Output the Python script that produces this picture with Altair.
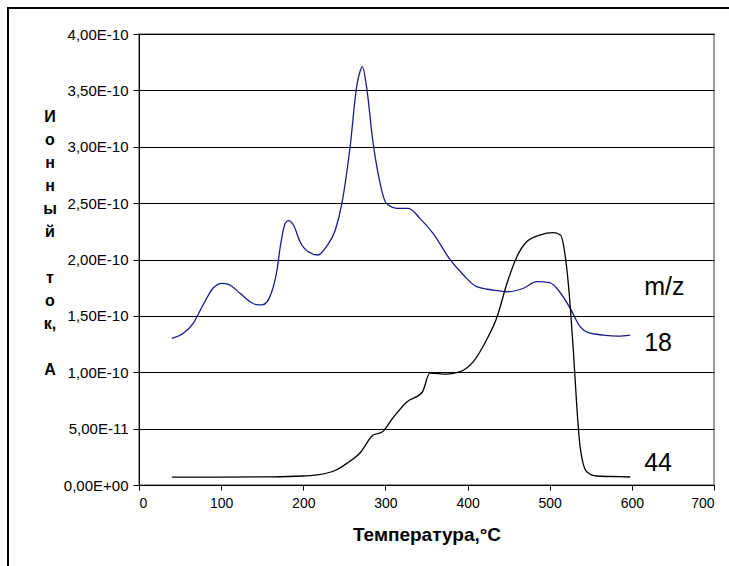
import altair as alt
import pandas as pd

# m/z 18 (blue)
temp_18 = [40, 54, 66, 78, 90, 101, 109, 123, 135, 143, 150, 156, 161, 165, 168, 172, 178, 182, 188,
           196, 206, 218, 228, 239, 247, 257, 265, 269, 272, 277, 285, 291, 301, 314, 328,
           342, 358, 379, 395, 411, 431, 448, 468, 484, 500, 512, 525, 537, 547, 565, 583, 598]
ion_18 = [1.30e-10, 1.345e-10, 1.434e-10, 1.596e-10, 1.745e-10, 1.789e-10, 1.780e-10, 1.700e-10,
          1.626e-10, 1.600e-10, 1.598e-10, 1.625e-10, 1.700e-10, 1.800e-10, 1.907e-10, 2.113e-10,
          2.321e-10, 2.344e-10,
          2.306e-10, 2.158e-10, 2.069e-10, 2.040e-10, 2.113e-10, 2.262e-10, 2.498e-10, 3.000e-10,
          3.533e-10, 3.665e-10, 3.710e-10, 3.533e-10, 3.031e-10, 2.765e-10, 2.498e-10, 2.454e-10,
          2.454e-10, 2.365e-10, 2.232e-10, 1.996e-10, 1.862e-10, 1.759e-10, 1.729e-10, 1.714e-10,
          1.745e-10, 1.803e-10, 1.794e-10, 1.714e-10, 1.567e-10, 1.404e-10, 1.351e-10, 1.330e-10,
          1.321e-10, 1.330e-10]

# m/z 44 (black)
temp_44 = [40, 100, 160, 200, 217, 240, 253, 269, 285, 296, 309, 326, 345, 354, 375, 391, 407,
           423, 436, 448, 460, 472, 488, 504, 513, 519, 521, 525, 529, 533, 537, 545, 557, 584, 598]
ion_44 = [0.070e-10, 0.070e-10, 0.072e-10, 0.080e-10, 0.089e-10, 0.133e-10, 0.192e-10, 0.284e-10,
          0.443e-10, 0.470e-10, 0.594e-10, 0.736e-10, 0.825e-10, 0.993e-10, 0.984e-10, 1.005e-10,
          1.094e-10, 1.286e-10, 1.493e-10, 1.789e-10, 2.025e-10, 2.158e-10, 2.217e-10, 2.238e-10,
          2.217e-10, 2.025e-10, 1.907e-10, 1.581e-10, 1.168e-10, 0.694e-10, 0.340e-10, 0.118e-10,
          0.080e-10, 0.074e-10, 0.071e-10]

x_ticks = [0, 100, 200, 300, 400, 500, 600, 700]
y_ticks = [0, 0.5e-10, 1.0e-10, 1.5e-10, 2.0e-10, 2.5e-10, 3.0e-10, 3.5e-10, 4.0e-10]
y_tick_labels = ["0,00E+00", "5,00E-11", "1,00E-10", "1,50E-10", "2,00E-10",
                 "2,50E-10", "3,00E-10", "3,50E-10", "4,00E-10"]

annot_text = ["m/z", "18", "44"]
annot_t = [615, 615, 615]
annot_i = [1.756e-10, 1.259e-10, 0.195e-10]

# vertical y-axis title, one line per entry ("" = empty line)
y_title = ["И", "о", "н", "н", "ы", "й", "", "т", "о", "к,", "", "А"]

FONT = "Liberation Sans"

df = pd.concat([
    pd.DataFrame({"T": temp_18, "I": ion_18, "s": "18"}),
    pd.DataFrame({"T": temp_44, "I": ion_44, "s": "44"}),
])
ann = pd.DataFrame({"T": annot_t, "I": annot_i, "txt": annot_text})
ytitle_df = pd.DataFrame({"txt": y_title, "line": list(range(len(y_title)))})

label_expr = "[" + ",".join("'%s'" % s for s in y_tick_labels) + "][round(datum.value*2e10)]"

xs = alt.Scale(domain=[0, 700], nice=False)
ys = alt.Scale(domain=[0, 4e-10], nice=False)

lines = alt.Chart(df).mark_line(strokeWidth=1.3, interpolate="monotone").encode(
    x=alt.X("T:Q", scale=xs,
            axis=alt.Axis(values=x_ticks, title="Температура,°C", grid=False,
                          domainColor="black", tickColor="black", tickSize=5,
                          labelFont=FONT, labelFontSize=14, labelColor="black",
                          labelPadding=6, titleFont=FONT, titleFontSize=19,
                          titleFontWeight="bold", titleColor="black",
                          titleY=49, titleBaseline="middle")),
    y=alt.Y("I:Q", scale=ys,
            axis=alt.Axis(values=y_ticks, labelExpr=label_expr, title=None,
                          grid=True, gridColor="black", gridWidth=1,
                          domainColor="black", tickColor="black", tickSize=6,
                          labelFont=FONT, labelFontSize=15, labelColor="black",
                          labelPadding=5)),
    color=alt.Color("s:N", scale=alt.Scale(domain=["18", "44"], range=["#1a1a8c", "#000000"]),
                    legend=None),
    detail="s:N",
)

labels = alt.Chart(ann).mark_text(align="left", baseline="middle", font=FONT,
                                  fontSize=25, color="black").encode(
    x=alt.X("T:Q", scale=xs), y=alt.Y("I:Q", scale=ys), text="txt:N")

ytitle = alt.Chart(ytitle_df).transform_filter("datum.txt != ''").transform_calculate(
    py="83 + datum.line * 23"
).mark_text(align="center", baseline="middle", font=FONT,
            fontSize=16, fontWeight="bold", color="black").encode(
    x=alt.value(-89), y=alt.Y("py:Q", scale=None, axis=None), text="txt:N")

top_border = alt.Chart(ann).mark_rule(color="black", strokeWidth=2).encode(
    x=alt.value(-131), x2=alt.value(700), y=alt.value(-26))
left_border = alt.Chart(ann).mark_rule(color="black", strokeWidth=2).encode(
    x=alt.value(-131), y=alt.value(-27), y2=alt.value(560))

chart = alt.layer(lines, labels, ytitle, top_border, left_border).properties(
    width=575, height=451,
    autosize=alt.AutoSizeParams(type="none"),
    padding={"left": 139, "top": 34, "right": 15, "bottom": 81},
    background="white",
).configure_view(stroke="#808080", strokeWidth=1.5)

chart.save("out.html", embed_options={"renderer": "svg", "actions": False})
